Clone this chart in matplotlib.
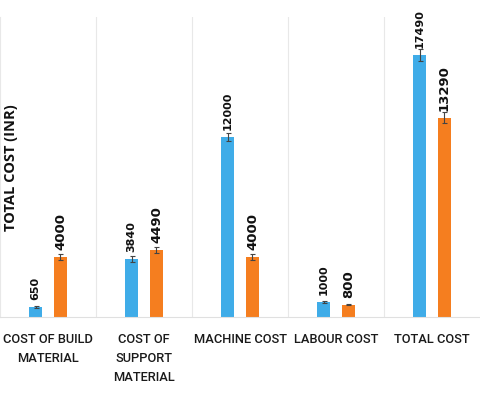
import matplotlib
matplotlib.use("Agg")
import matplotlib.pyplot as plt
import numpy as np

categories = ["COST OF BUILD\nMATERIAL", "COST OF\nSUPPORT\nMATERIAL", "MACHINE COST", "LABOUR COST", "TOTAL COST"]
series_a = [650, 3840, 12000, 1000, 17490]
series_b = [4000, 4490, 4000, 800, 13290]
err_a = [40, 200, 270, 60, 400]
err_b = [200, 200, 200, 40, 350]
ylabel = "TOTAL COST (INR)"

blue = "#3FACE8"
orange = "#F57E1F"

fig = plt.figure(figsize=(4.8, 3.98), dpi=100)
ax = fig.add_axes([0.0, 0.204, 1.0, 0.753])

x = np.arange(len(categories))
w = 0.135
off = 0.13
ax.bar(x - off, series_a, w, color=blue, yerr=err_a,
       error_kw=dict(ecolor="#444444", elinewidth=0.8, capsize=1.8, capthick=0.8))
ax.bar(x + off, series_b, w, color=orange, yerr=err_b,
       error_kw=dict(ecolor="#444444", elinewidth=0.8, capsize=1.8, capthick=0.8))

for xi, v in zip(x - off, series_a):
    ax.annotate(str(v), (xi, v), xytext=(0, 5), textcoords="offset points",
                rotation=90, ha="center", va="bottom", fontsize=8,
                fontfamily="DejaVu Sans", fontweight="bold", color="#111111")
for xi, v in zip(x + off, series_b):
    ax.annotate(str(v), (xi, v), xytext=(0, 5), textcoords="offset points",
                rotation=90, ha="center", va="bottom", fontsize=9.5,
                fontfamily="DejaVu Sans", fontweight="bold", color="#111111")

ax.set_xlim(-0.5, len(categories) - 0.5)
ax.set_ylim(0, 20000)
ax.set_yticks([])
ax.set_xticks(x)
ax.set_xticklabels(categories, fontsize=9.3, fontfamily="Roboto", fontweight="medium",
                   linespacing=1.6, color="#1a1a1a")
ax.tick_params(axis="x", length=0, pad=12)
for b in np.arange(0.5, len(categories) - 0.5, 1.0):
    ax.axvline(b, color="#E8E8E8", lw=0.8, zorder=0)
for s in ["top", "right"]:
    ax.spines[s].set_visible(False)
ax.spines["left"].set_color("#E8E8E8")
ax.spines["bottom"].set_color("#E0E0E0")

fig.text(0.023, 0.58, ylabel, rotation=90, ha="center", va="center",
         fontsize=10.5, fontfamily="Open Sans", fontweight="bold", color="#111111")

fig.savefig("out.png", dpi=100)
